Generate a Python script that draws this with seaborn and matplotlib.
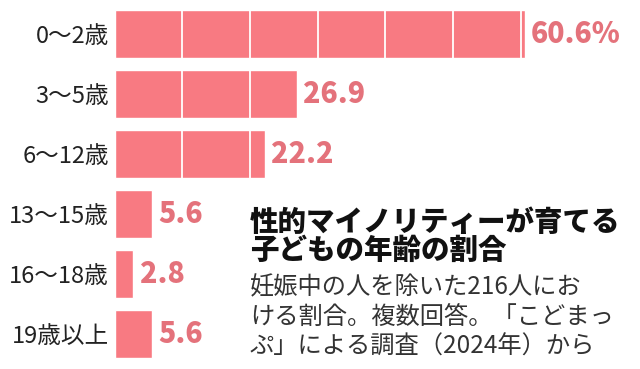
import matplotlib
matplotlib.use("Agg")
import matplotlib.pyplot as plt
import seaborn as sns
import pandas as pd

categories = ["0～2歳", "3～5歳", "6～12歳", "13～15歳", "16～18歳", "19歳以上"]
values = [60.6, 26.9, 22.2, 5.6, 2.8, 5.6]
value_labels = ["60.6%", "26.9", "22.2", "5.6", "2.8", "5.6"]
grid_ticks = [10, 20, 30, 40, 50, 60]
title_lines = ["性的マイノリティーが育てる", "子どもの年齢の割合"]
note_lines = ["妊娠中の人を除いた216人にお", "ける割合。複数回答。「こどまっ", "ぷ」による調査（2024年）から"]

sns.set_theme(style="white")
plt.rcParams["font.family"] = ["Noto Sans CJK JP", "DejaVu Sans"]

BAR = "#F87A82"
LABEL = "#E4727B"

W, H = 640, 369
fig = plt.figure(figsize=(W / 100, H / 100), dpi=100)
fig.patch.set_facecolor("white")
left_px, right_px = 114.5, 640
top_px, bot_px = 4, 364
ax = fig.add_axes([left_px / W, (H - bot_px) / H, (right_px - left_px) / W, (bot_px - top_px) / H])

df = pd.DataFrame({"cat": categories, "val": values})
sns.barplot(data=df, x="val", y="cat", orient="h", color=BAR, saturation=1, width=0.8, ax=ax, zorder=2)
ax.set_xlim(0, (right_px - left_px) / 6.77)
ax.set_ylim(len(categories) - 0.5, -0.5)

for t in grid_ticks:
    ax.axvline(t, color="white", lw=1.3, zorder=3)

for i, (v, lab) in enumerate(zip(values, value_labels)):
    ax.annotate(lab, xy=(v, i), xytext=(4.5, 0), textcoords="offset points",
                ha="left", va="center", fontsize=20.5, fontweight="heavy", color=LABEL, zorder=5)

ax.set_xlabel("")
ax.set_ylabel("")
ax.set_xticks([])
ax.tick_params(axis="y", length=0, pad=4, labelsize=17, labelcolor="#222222")
for s in ax.spines.values():
    s.set_visible(False)
ax.set_facecolor("none")

tx = 250 / W
for k, line in enumerate(title_lines):
    fig.text(tx, 1 - (222 + 28 * k) / H, line, ha="left", va="center",
             fontsize=20.5, fontweight="black", color="#111111")
for k, line in enumerate(note_lines):
    fig.text(tx, 1 - (287 + 30 * k) / H, line, ha="left", va="center",
             fontsize=17.5, color="#333333")

fig.savefig("out.png", dpi=100)
